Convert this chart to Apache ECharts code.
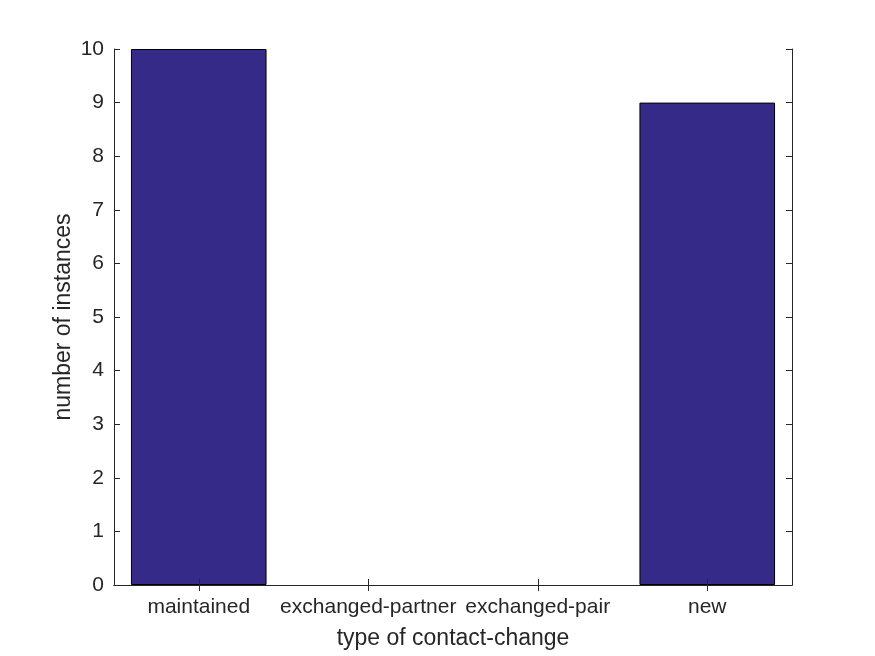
<!DOCTYPE html>
<html>
<head>
<meta charset="utf-8">
<script src="https://cdn.jsdelivr.net/npm/echarts@6/dist/echarts.min.js"></script>
<style>html,body{margin:0;padding:0;background:#fff}#c{width:875px;height:656px}</style>
</head>
<body>
<div id="c"></div>
<script>
const categories = ['maintained', 'exchanged-partner', 'exchanged-pair', 'new'];
const counts = [10, 0, 0, 9];
const yTicks = [0, 1, 2, 3, 4, 5, 6, 7, 8, 9, 10];

const txt = '#262626';
const font = 'Liberation Sans, Arial, Helvetica, sans-serif';
const chart = echarts.init(document.getElementById('c'), null, {renderer: 'canvas'});
const lineStyle = {color: txt, width: 1};
const barData = counts.map(v => ({
  value: v,
  itemStyle: v === 0 ? {borderWidth: 0, opacity: 0} : {}
}));
chart.setOption({
  animation: false,
  backgroundColor: '#ffffff',
  grid: {left: 114, right: 83, top: 49, bottom: 71, containLabel: false},
  xAxis: [{
    type: 'category', data: categories, position: 'bottom', z: 5,
    boundaryGap: true,
    axisLine: {show: true, lineStyle: lineStyle},
    axisTick: {show: true, inside: true, length: 6, alignWithLabel: true, lineStyle: lineStyle},
    axisLabel: {color: txt, fontFamily: font, fontSize: 21, margin: 12, interval: 0},
    name: 'type of contact-change', nameLocation: 'middle', nameGap: 42, nameMoveOverlap: false,
    nameTextStyle: {color: txt, fontFamily: font, fontSize: 23, verticalAlign: 'top'}
  }, {
    type: 'category', data: categories, position: 'top', z: 5,
    boundaryGap: true,
    axisLine: {show: true, lineStyle: lineStyle},
    axisTick: {show: true, inside: true, length: 6, alignWithLabel: true, lineStyle: lineStyle},
    axisLabel: {show: false}
  }],
  yAxis: [{
    type: 'value', min: yTicks[0], max: yTicks[yTicks.length - 1], interval: 1, position: 'left', z: 5,
    splitLine: {show: false},
    axisLine: {show: true, lineStyle: lineStyle},
    axisTick: {show: true, inside: true, length: 6, lineStyle: lineStyle},
    axisLabel: {color: txt, fontFamily: font, fontSize: 21, margin: 10},
    name: 'number of instances', nameLocation: 'middle', nameGap: 39, nameRotate: 90, nameMoveOverlap: false,
    nameTextStyle: {color: txt, fontFamily: font, fontSize: 23, verticalAlign: 'bottom'}
  }, {
    type: 'value', min: yTicks[0], max: yTicks[yTicks.length - 1], interval: 1, position: 'right', z: 5,
    splitLine: {show: false},
    axisLine: {show: true, lineStyle: lineStyle},
    axisTick: {show: true, inside: true, length: 6, lineStyle: lineStyle},
    axisLabel: {show: false}
  }],
  series: [{
    type: 'bar', data: barData, xAxisIndex: 0, yAxisIndex: 0,
    barWidth: '80%',
    itemStyle: {color: '#352a87', borderColor: '#000000', borderWidth: 1}
  }]
});
</script>
</body>
</html>
